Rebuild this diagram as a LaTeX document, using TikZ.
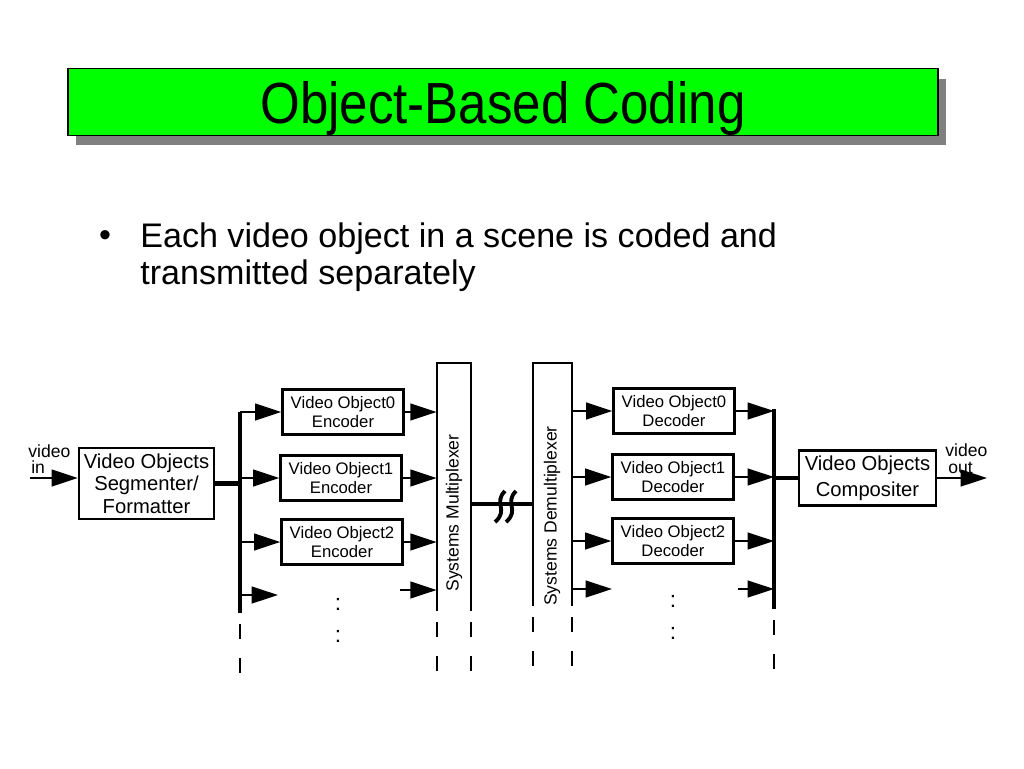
\documentclass[tikz,border=0pt]{standalone}
\usepackage{fontspec}
\setmainfont{Liberation Sans}
\usetikzlibrary{arrows.meta,calc,shadows}
\definecolor{titlegreen}{RGB}{0,255,0}
\definecolor{shadowgray}{RGB}{128,128,128}

\tikzset{
  arr/.style={line width=1.3pt,-{Triangle[length=15pt,width=9.5pt]}},
  bus/.style={line width=2.4pt},
  box/.style={draw,line width=1.3pt,inner sep=0pt,align=center},
  codbox/.style={box,minimum width=2.42cm,minimum height=0.9cm,font=\fontsize{9.5}{11}\selectfont},
  dsh/.style={line width=1.1pt},
  dots/.style={font=\fontsize{13}{13}\selectfont}
}

\begin{document}
\begin{tikzpicture}[x=0.02cm,y=-0.02cm]
\useasboundingbox (0,0) rectangle (1024,768);

\node[draw,line width=0.8pt,fill=titlegreen,minimum width=17.4cm,minimum height=1.34cm,
  drop shadow={shadow xshift=0.16cm,shadow yshift=-0.2cm,fill=shadowgray,opacity=1}] (title) at (503,102) {};
\node[font=\fontsize{33}{33}\selectfont] (titletext) at (503,109) {\scalebox{0.88}[1]{Object-Based Coding}};

\node[font=\fontsize{19.4}{20.5}\selectfont] (bullet) at (105,239) {\textbullet};
\node[anchor=base west,align=left,inner sep=0pt,font=\fontsize{19.4}{20.5}\selectfont] (bodytext) at (140,284)
  {Each video object in a scene is coded and\\transmitted separately};

\coordinate (vin) at (30,478);
\coordinate (lbt) at (240,412);
\coordinate (lbb) at (240,613);
\coordinate (rbt) at (774,409);
\coordinate (rbb) at (774,609);
\coordinate (brk) at (503,504);
\coordinate (vout) at (987,480);
\coordinate (l3) at (278,595);
\coordinate (m3) at (400,590);
\coordinate (d3) at (612,589);
\coordinate (r3) at (738,589);

\node[anchor=west,align=left,inner sep=0pt,font=\fontsize{10}{9.5}\selectfont] (vinlabel) at (28,459) {video\\\,in};
\node[box,minimum width=2.7cm,minimum height=1.42cm,font=\fontsize{11.5}{12.8}\selectfont] (seg) at (146.5,483.5)
  {Video Objects\\Segmenter/\\Formatter};

\node[codbox] (enc0) at (343,412) {Video Object0\\Encoder};
\node[codbox] (enc1) at (341,478) {Video Object1\\Encoder};
\node[codbox] (enc2) at (342,542) {Video Object2\\Encoder};
\node[dots] (encdot1) at (338,604) {:};
\node[dots] (encdot2) at (338,636) {:};

\node[minimum width=0.68cm,minimum height=4.96cm,inner sep=0pt] (mux) at (454,487) {};
\node[rotate=90,font=\fontsize{10}{12}\selectfont] (muxtext) at (454,513) {Systems Multiplexer};
\node[minimum width=0.78cm,minimum height=4.86cm,inner sep=0pt] (dmx) at (552.5,484.5) {};
\node[rotate=90,font=\fontsize{10}{12}\selectfont] (dmxtext) at (552,516) {Systems Demultiplexer};

\node[codbox] (dec0) at (674,411) {Video Object0\\Decoder};
\node[codbox] (dec1) at (673,477) {Video Object1\\Decoder};
\node[codbox] (dec2) at (673,541) {Video Object2\\Decoder};
\node[dots] (decdot1) at (673,601) {:};
\node[dots] (decdot2) at (673,633) {:};

\node[box,minimum width=2.74cm,minimum height=1.1cm,font=\fontsize{11.5}{14.8}\selectfont] (comp) at (867.5,478)
  {Video Objects\\Compositer};
\node[anchor=west,align=left,inner sep=0pt,font=\fontsize{10}{9.5}\selectfont] (voutlabel) at (945,459) {video\\\,out};

\draw[arr] (vin) -- (vin -| seg.west);
\draw[bus] (seg.east) -- (seg.east -| lbt);
\draw[bus] (lbt) -- (lbb);
\draw[arr] (lbt |- enc0) -- (enc0);
\draw[arr] (lbt |- enc1) -- (enc1);
\draw[arr] (lbt |- enc2) -- (enc2);
\draw[arr] (lbt |- l3) -- (l3);

\draw[arr] (enc0) -- (enc0 -| mux.west);
\draw[arr] (enc1) -- (enc1 -| mux.west);
\draw[arr] (enc2) -- (enc2 -| mux.west);
\draw[arr] (m3) -- (m3 -| mux.west);
\draw[line width=1.2pt] (mux.south west) -- (mux.north west) -- (mux.north east) -- (mux.south east);
\draw[line width=1.2pt] (dmx.south west) -- (dmx.north west) -- (dmx.north east) -- (dmx.south east);

\draw[bus] (brk -| mux.east) -- (brk -| dmx.west);
\draw[line width=2.2pt] ($(brk)+(2,-13)$) .. controls ($(brk)+(-10,-1)$) and ($(brk)+(6,6)$) .. ($(brk)+(-8,18)$);
\draw[line width=2.2pt] ($(brk)+(13,-13)$) .. controls ($(brk)+(1,-1)$) and ($(brk)+(17,6)$) .. ($(brk)+(3,18)$);

\draw[arr] (dmx.east |- dec0) -- (dec0);
\draw[arr] (dmx.east |- dec1) -- (dec1);
\draw[arr] (dmx.east |- dec2) -- (dec2);
\draw[arr] (dmx.east |- d3) -- (d3);

\draw[arr] (dec0) -- (dec0 -| rbt);
\draw[arr] (dec1) -- (dec1 -| rbt);
\draw[arr] (dec2) -- (dec2 -| rbt);
\draw[arr] (r3) -- (r3 -| rbt);
\draw[bus] (rbt) -- (rbb);
\draw[bus] (rbt |- comp) -- (comp.west);
\draw[arr] (comp.east) -- (comp.east -| vout);

\foreach \p in {lbb,mux.south west,mux.south east,dmx.south west,dmx.south east,rbb}
  \draw[dsh] ($(\p)+(0,11)$) -- ++(0,15) ++(0,19) -- ++(0,15);

\end{tikzpicture}
\end{document}
